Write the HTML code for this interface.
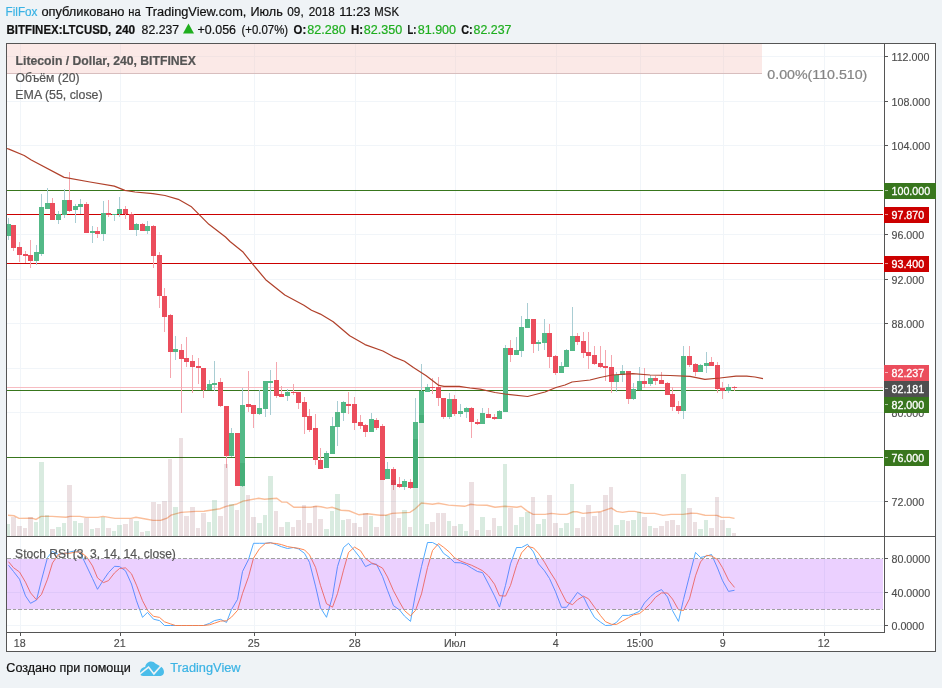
<!DOCTYPE html>
<html><head><meta charset="utf-8"><title>LTCUSD</title>
<style>
html,body{margin:0;padding:0;}
body{width:942px;height:688px;background:#eff3f6;position:relative;overflow:hidden;font-family:"Liberation Sans",sans-serif;color:#1a1a1a;}
.h1,.h2,.ft{position:absolute;left:6px;white-space:nowrap;font-size:13px;line-height:16px;}
.h1{top:4px;letter-spacing:0.1px}
.h2{top:21px;}
.ft{top:660px;}
.bl{color:#3bb3e4}
.gr{color:#1fae1f}
b{font-weight:bold}
svg{position:absolute;left:0;top:0;will-change:transform}
text{font-family:"Liberation Sans",sans-serif}
</style></head><body>

<svg width="942" height="688" viewBox="0 0 942 688">
<rect x="6" y="43" width="930" height="609" fill="#ffffff"/>
<g stroke="#f1f5f9" stroke-width="1" shape-rendering="crispEdges">
<line x1="7" x2="884" y1="56.5" y2="56.5"/>
<line x1="7" x2="884" y1="101.5" y2="101.5"/>
<line x1="7" x2="884" y1="145.5" y2="145.5"/>
<line x1="7" x2="884" y1="190.5" y2="190.5"/>
<line x1="7" x2="884" y1="234.5" y2="234.5"/>
<line x1="7" x2="884" y1="279.5" y2="279.5"/>
<line x1="7" x2="884" y1="323.5" y2="323.5"/>
<line x1="7" x2="884" y1="368.5" y2="368.5"/>
<line x1="7" x2="884" y1="412.5" y2="412.5"/>
<line x1="7" x2="884" y1="457.5" y2="457.5"/>
<line x1="7" x2="884" y1="501.5" y2="501.5"/>
<line x1="7" x2="884" y1="558.5" y2="558.5"/>
<line x1="7" x2="884" y1="592.5" y2="592.5"/>
<line x1="7" x2="884" y1="625.5" y2="625.5"/>
<line x1="20.5" x2="20.5" y1="44" y2="536"/>
<line x1="20.5" x2="20.5" y1="537" y2="632"/>
<line x1="120.5" x2="120.5" y1="44" y2="536"/>
<line x1="120.5" x2="120.5" y1="537" y2="632"/>
<line x1="254.5" x2="254.5" y1="44" y2="536"/>
<line x1="254.5" x2="254.5" y1="537" y2="632"/>
<line x1="355.5" x2="355.5" y1="44" y2="536"/>
<line x1="355.5" x2="355.5" y1="537" y2="632"/>
<line x1="455.5" x2="455.5" y1="44" y2="536"/>
<line x1="455.5" x2="455.5" y1="537" y2="632"/>
<line x1="556.5" x2="556.5" y1="44" y2="536"/>
<line x1="556.5" x2="556.5" y1="537" y2="632"/>
<line x1="640.5" x2="640.5" y1="44" y2="536"/>
<line x1="640.5" x2="640.5" y1="537" y2="632"/>
<line x1="723.5" x2="723.5" y1="44" y2="536"/>
<line x1="723.5" x2="723.5" y1="537" y2="632"/>
<line x1="824.5" x2="824.5" y1="44" y2="536"/>
<line x1="824.5" x2="824.5" y1="537" y2="632"/>
</g>
<rect x="7" y="44" width="755" height="29" fill="#f4c7c3" fill-opacity="0.4"/>
<line x1="7" x2="762" y1="73.5" y2="73.5" stroke="#d8bebe" stroke-width="1" shape-rendering="crispEdges"/>
<polyline fill="none" stroke="#f9b78f" stroke-width="1.4" stroke-opacity="0.9" points="8.0,515.2 14.0,515.8 19.0,518.4 32.0,518.2 36.0,519.4 41.0,516.4 52.0,516.4 66.0,517.2 70.0,516.4 80.0,516.4 86.0,517.4 98.0,517.4 103.0,516.4 115.0,518.4 131.0,518.4 136.0,517.2 147.0,519.2 153.0,520.4 161.0,520.2 167.0,518.2 171.0,515.2 181.0,512.4 196.0,511.4 204.0,511.2 220.0,508.7 226.0,506.3 236.0,504.3 243.0,501.1 258.6,498.3 264.6,499.3 276.7,498.3 281.8,502.1 286.8,502.1 293.9,507.3 311.0,507.3 316.0,506.3 321.0,506.7 327.0,508.1 332.0,507.3 341.0,510.2 349.0,510.8 359.0,514.8 367.5,513.8 380.0,515.2 386.0,515.2 392.0,513.4 410.0,512.4 415.3,508.7 421.4,503.1 432.5,504.3 438.5,503.3 448.6,505.1 464.7,506.3 470.8,504.3 476.8,505.1 487.0,505.3 495.0,507.3 505.0,506.3 517.0,507.3 521.0,506.3 527.0,510.8 533.0,514.4 545.0,514.4 551.5,513.4 560.0,514.4 567.0,514.4 573.0,511.8 577.0,511.8 583.0,513.4 600.0,511.8 611.4,508.1 616.5,511.4 622.5,512.4 628.6,511.4 634.6,511.4 644.7,513.4 654.8,513.4 662.9,515.4 671.0,514.4 683.0,514.4 691.0,513.2 697.0,513.4 705.0,515.2 717.0,515.4 721.4,517.2 729.4,517.4 734.5,518.4"/>
<line x1="7" x2="883" y1="190.5" y2="190.5" stroke="#38761d" stroke-width="1" shape-rendering="crispEdges"/>
<line x1="7" x2="883" y1="214.5" y2="214.5" stroke="#cc0000" stroke-width="1" shape-rendering="crispEdges"/>
<line x1="7" x2="883" y1="263.5" y2="263.5" stroke="#cc0000" stroke-width="1" shape-rendering="crispEdges"/>
<line x1="7" x2="883" y1="390.5" y2="390.5" stroke="#38761d" stroke-width="1" shape-rendering="crispEdges"/>
<line x1="7" x2="883" y1="457.5" y2="457.5" stroke="#38761d" stroke-width="1" shape-rendering="crispEdges"/>
<line x1="7" x2="883" y1="387.5" y2="387.5" stroke="#f7bcc2" stroke-width="1" shape-rendering="crispEdges"/>
<g shape-rendering="crispEdges">
<rect x="8" y="218.4" width="1" height="21.5" fill="#a9cdd3"/>
<rect x="6" y="224.2" width="5" height="11.7" fill="#53b987"/>
<rect x="13" y="224.9" width="1" height="25.8" fill="#f5a6ae"/>
<rect x="11" y="224.9" width="5" height="22.8" fill="#eb4d5c"/>
<rect x="19" y="242.0" width="1" height="20.0" fill="#f5a6ae"/>
<rect x="17" y="246.9" width="5" height="8.2" fill="#eb4d5c"/>
<rect x="25" y="250.7" width="1" height="12.3" fill="#f5a6ae"/>
<rect x="23" y="254.2" width="5" height="1.8" fill="#eb4d5c"/>
<rect x="30" y="240.0" width="1" height="27.8" fill="#f5a6ae"/>
<rect x="28" y="255.0" width="5" height="5.8" fill="#eb4d5c"/>
<rect x="36" y="245.0" width="1" height="19.7" fill="#a9cdd3"/>
<rect x="34" y="252.1" width="5" height="8.7" fill="#53b987"/>
<rect x="41" y="194.0" width="1" height="62.0" fill="#a9cdd3"/>
<rect x="39" y="206.7" width="5" height="47.1" fill="#53b987"/>
<rect x="47" y="188.0" width="1" height="20.8" fill="#a9cdd3"/>
<rect x="45" y="202.9" width="5" height="5.9" fill="#53b987"/>
<rect x="52" y="198.0" width="1" height="21.8" fill="#f5a6ae"/>
<rect x="50" y="203.0" width="5" height="16.8" fill="#eb4d5c"/>
<rect x="58" y="211.0" width="1" height="12.7" fill="#a9cdd3"/>
<rect x="56" y="214.0" width="5" height="5.8" fill="#53b987"/>
<rect x="64" y="189.3" width="1" height="28.7" fill="#a9cdd3"/>
<rect x="62" y="200.0" width="5" height="15.0" fill="#53b987"/>
<rect x="69" y="172.0" width="1" height="40.0" fill="#f5a6ae"/>
<rect x="67" y="200.0" width="5" height="11.0" fill="#eb4d5c"/>
<rect x="75" y="204.0" width="1" height="18.8" fill="#a9cdd3"/>
<rect x="73" y="205.9" width="5" height="4.1" fill="#53b987"/>
<rect x="80" y="199.0" width="1" height="15.0" fill="#a9cdd3"/>
<rect x="78" y="204.0" width="5" height="2.7" fill="#53b987"/>
<rect x="86" y="202.0" width="1" height="30.7" fill="#f5a6ae"/>
<rect x="84" y="204.0" width="5" height="28.7" fill="#eb4d5c"/>
<rect x="92" y="226.0" width="1" height="16.9" fill="#a9cdd3"/>
<rect x="90" y="231.0" width="5" height="1.7" fill="#53b987"/>
<rect x="97" y="227.0" width="1" height="10.8" fill="#f5a6ae"/>
<rect x="95" y="231.0" width="5" height="3.0" fill="#eb4d5c"/>
<rect x="103" y="201.0" width="1" height="39.8" fill="#a9cdd3"/>
<rect x="101" y="212.9" width="5" height="21.1" fill="#53b987"/>
<rect x="108" y="200.0" width="1" height="16.7" fill="#f5a6ae"/>
<rect x="106" y="212.9" width="5" height="1.7" fill="#eb4d5c"/>
<rect x="114" y="213.7" width="1" height="7.0" fill="#a9cdd3"/>
<rect x="112" y="213.7" width="5" height="1.0" fill="#53b987"/>
<rect x="119" y="197.0" width="1" height="19.5" fill="#a9cdd3"/>
<rect x="117" y="208.8" width="5" height="5.2" fill="#53b987"/>
<rect x="125" y="206.0" width="1" height="12.8" fill="#f5a6ae"/>
<rect x="123" y="208.8" width="5" height="5.2" fill="#eb4d5c"/>
<rect x="131" y="211.8" width="1" height="18.0" fill="#f5a6ae"/>
<rect x="129" y="214.0" width="5" height="15.8" fill="#eb4d5c"/>
<rect x="136" y="222.8" width="1" height="12.9" fill="#a9cdd3"/>
<rect x="134" y="224.0" width="5" height="5.8" fill="#53b987"/>
<rect x="142" y="222.8" width="1" height="7.8" fill="#f5a6ae"/>
<rect x="140" y="224.0" width="5" height="6.6" fill="#eb4d5c"/>
<rect x="147" y="221.0" width="1" height="12.6" fill="#a9cdd3"/>
<rect x="145" y="226.0" width="5" height="4.6" fill="#53b987"/>
<rect x="153" y="225.0" width="1" height="42.6" fill="#f5a6ae"/>
<rect x="151" y="226.0" width="5" height="29.8" fill="#eb4d5c"/>
<rect x="159" y="252.0" width="1" height="55.7" fill="#f5a6ae"/>
<rect x="157" y="255.0" width="5" height="41.4" fill="#eb4d5c"/>
<rect x="164" y="287.8" width="1" height="44.2" fill="#f5a6ae"/>
<rect x="162" y="296.0" width="5" height="21.0" fill="#eb4d5c"/>
<rect x="170" y="314.0" width="1" height="64.0" fill="#f5a6ae"/>
<rect x="168" y="314.9" width="5" height="37.0" fill="#eb4d5c"/>
<rect x="175" y="335.8" width="1" height="24.1" fill="#a9cdd3"/>
<rect x="173" y="349.2" width="5" height="2.7" fill="#53b987"/>
<rect x="181" y="344.0" width="1" height="68.7" fill="#f5a6ae"/>
<rect x="179" y="350.0" width="5" height="8.8" fill="#eb4d5c"/>
<rect x="186" y="336.7" width="1" height="30.2" fill="#f5a6ae"/>
<rect x="184" y="358.0" width="5" height="4.0" fill="#eb4d5c"/>
<rect x="192" y="355.0" width="1" height="37.5" fill="#f5a6ae"/>
<rect x="190" y="361.0" width="5" height="5.9" fill="#eb4d5c"/>
<rect x="198" y="358.0" width="1" height="26.0" fill="#f5a6ae"/>
<rect x="196" y="366.0" width="5" height="1.7" fill="#eb4d5c"/>
<rect x="203" y="367.7" width="1" height="30.3" fill="#f5a6ae"/>
<rect x="201" y="367.7" width="5" height="22.5" fill="#eb4d5c"/>
<rect x="209" y="380.0" width="1" height="10.2" fill="#a9cdd3"/>
<rect x="207" y="384.0" width="5" height="6.2" fill="#53b987"/>
<rect x="214" y="361.0" width="1" height="29.8" fill="#a9cdd3"/>
<rect x="212" y="383.0" width="5" height="1.7" fill="#53b987"/>
<rect x="220" y="378.0" width="1" height="29.0" fill="#f5a6ae"/>
<rect x="218" y="382.0" width="5" height="24.1" fill="#eb4d5c"/>
<rect x="226" y="406.1" width="1" height="61.6" fill="#f5a6ae"/>
<rect x="224" y="406.1" width="5" height="49.9" fill="#eb4d5c"/>
<rect x="231" y="428.0" width="1" height="28.9" fill="#a9cdd3"/>
<rect x="229" y="433.1" width="5" height="22.9" fill="#53b987"/>
<rect x="237" y="433.1" width="1" height="52.5" fill="#f5a6ae"/>
<rect x="235" y="433.1" width="5" height="52.5" fill="#eb4d5c"/>
<rect x="242" y="388.0" width="1" height="98.5" fill="#a9cdd3"/>
<rect x="240" y="404.9" width="5" height="80.7" fill="#53b987"/>
<rect x="248" y="370.9" width="1" height="41.0" fill="#f5a6ae"/>
<rect x="246" y="404.0" width="5" height="3.0" fill="#eb4d5c"/>
<rect x="253" y="404.9" width="1" height="23.0" fill="#f5a6ae"/>
<rect x="251" y="404.9" width="5" height="9.1" fill="#eb4d5c"/>
<rect x="259" y="390.0" width="1" height="25.0" fill="#a9cdd3"/>
<rect x="257" y="408.0" width="5" height="6.0" fill="#53b987"/>
<rect x="265" y="381.0" width="1" height="36.0" fill="#a9cdd3"/>
<rect x="263" y="381.0" width="5" height="27.7" fill="#53b987"/>
<rect x="270" y="369.6" width="1" height="45.4" fill="#a9cdd3"/>
<rect x="268" y="381.0" width="5" height="2.0" fill="#53b987"/>
<rect x="276" y="362.0" width="1" height="35.9" fill="#f5a6ae"/>
<rect x="274" y="380.0" width="5" height="15.8" fill="#eb4d5c"/>
<rect x="281" y="386.0" width="1" height="10.7" fill="#f5a6ae"/>
<rect x="279" y="394.0" width="5" height="2.7" fill="#eb4d5c"/>
<rect x="287" y="388.8" width="1" height="12.2" fill="#a9cdd3"/>
<rect x="285" y="391.8" width="5" height="4.0" fill="#53b987"/>
<rect x="293" y="384.0" width="1" height="11.0" fill="#f5a6ae"/>
<rect x="291" y="391.8" width="5" height="1.2" fill="#eb4d5c"/>
<rect x="298" y="392.0" width="1" height="16.7" fill="#f5a6ae"/>
<rect x="296" y="392.0" width="5" height="10.6" fill="#eb4d5c"/>
<rect x="304" y="397.0" width="1" height="37.0" fill="#f5a6ae"/>
<rect x="302" y="402.0" width="5" height="14.7" fill="#eb4d5c"/>
<rect x="309" y="409.0" width="1" height="23.0" fill="#f5a6ae"/>
<rect x="307" y="415.9" width="5" height="13.9" fill="#eb4d5c"/>
<rect x="315" y="414.0" width="1" height="51.0" fill="#f5a6ae"/>
<rect x="313" y="428.0" width="5" height="31.8" fill="#eb4d5c"/>
<rect x="320" y="448.0" width="1" height="20.9" fill="#f5a6ae"/>
<rect x="318" y="459.8" width="5" height="9.1" fill="#eb4d5c"/>
<rect x="326" y="450.8" width="1" height="16.9" fill="#a9cdd3"/>
<rect x="324" y="452.9" width="5" height="14.8" fill="#53b987"/>
<rect x="332" y="417.0" width="1" height="36.7" fill="#a9cdd3"/>
<rect x="330" y="425.8" width="5" height="27.9" fill="#53b987"/>
<rect x="337" y="401.0" width="1" height="44.9" fill="#a9cdd3"/>
<rect x="335" y="411.9" width="5" height="14.8" fill="#53b987"/>
<rect x="343" y="401.0" width="1" height="20.0" fill="#a9cdd3"/>
<rect x="341" y="402.0" width="5" height="10.7" fill="#53b987"/>
<rect x="348" y="392.0" width="1" height="21.6" fill="#f5a6ae"/>
<rect x="346" y="404.0" width="5" height="1.8" fill="#eb4d5c"/>
<rect x="354" y="397.0" width="1" height="32.8" fill="#f5a6ae"/>
<rect x="352" y="404.0" width="5" height="18.7" fill="#eb4d5c"/>
<rect x="360" y="415.0" width="1" height="13.8" fill="#f5a6ae"/>
<rect x="358" y="421.8" width="5" height="4.0" fill="#eb4d5c"/>
<rect x="365" y="424.0" width="1" height="12.8" fill="#f5a6ae"/>
<rect x="363" y="425.0" width="5" height="7.0" fill="#eb4d5c"/>
<rect x="371" y="413.0" width="1" height="19.0" fill="#a9cdd3"/>
<rect x="369" y="418.8" width="5" height="13.2" fill="#53b987"/>
<rect x="376" y="418.0" width="1" height="11.8" fill="#f5a6ae"/>
<rect x="374" y="419.7" width="5" height="8.3" fill="#eb4d5c"/>
<rect x="382" y="424.0" width="1" height="55.9" fill="#f5a6ae"/>
<rect x="380" y="425.8" width="5" height="54.1" fill="#eb4d5c"/>
<rect x="387" y="462.0" width="1" height="17.0" fill="#a9cdd3"/>
<rect x="385" y="468.9" width="5" height="10.1" fill="#53b987"/>
<rect x="393" y="466.8" width="1" height="23.2" fill="#f5a6ae"/>
<rect x="391" y="468.9" width="5" height="16.1" fill="#eb4d5c"/>
<rect x="399" y="477.0" width="1" height="10.7" fill="#f5a6ae"/>
<rect x="397" y="483.9" width="5" height="3.0" fill="#eb4d5c"/>
<rect x="404" y="479.0" width="1" height="11.0" fill="#a9cdd3"/>
<rect x="402" y="480.8" width="5" height="6.1" fill="#53b987"/>
<rect x="410" y="479.0" width="1" height="9.6" fill="#f5a6ae"/>
<rect x="408" y="482.0" width="5" height="5.7" fill="#eb4d5c"/>
<rect x="415" y="397.9" width="1" height="89.8" fill="#a9cdd3"/>
<rect x="413" y="421.8" width="5" height="65.9" fill="#53b987"/>
<rect x="421" y="364.3" width="1" height="58.6" fill="#a9cdd3"/>
<rect x="419" y="390.9" width="5" height="32.0" fill="#53b987"/>
<rect x="427" y="384.0" width="1" height="7.8" fill="#a9cdd3"/>
<rect x="425" y="387.4" width="5" height="4.4" fill="#53b987"/>
<rect x="432" y="377.8" width="1" height="16.1" fill="#f5a6ae"/>
<rect x="430" y="387.0" width="5" height="1.0" fill="#eb4d5c"/>
<rect x="438" y="377.0" width="1" height="28.8" fill="#f5a6ae"/>
<rect x="436" y="387.0" width="5" height="10.9" fill="#eb4d5c"/>
<rect x="443" y="397.9" width="1" height="20.9" fill="#f5a6ae"/>
<rect x="441" y="397.9" width="5" height="18.8" fill="#eb4d5c"/>
<rect x="449" y="393.0" width="1" height="25.8" fill="#a9cdd3"/>
<rect x="447" y="399.0" width="5" height="17.7" fill="#53b987"/>
<rect x="454" y="395.0" width="1" height="20.9" fill="#f5a6ae"/>
<rect x="452" y="399.0" width="5" height="15.0" fill="#eb4d5c"/>
<rect x="460" y="404.0" width="1" height="12.7" fill="#a9cdd3"/>
<rect x="458" y="411.0" width="5" height="3.0" fill="#53b987"/>
<rect x="466" y="407.0" width="1" height="11.0" fill="#a9cdd3"/>
<rect x="464" y="408.0" width="5" height="3.9" fill="#53b987"/>
<rect x="471" y="407.0" width="1" height="31.0" fill="#f5a6ae"/>
<rect x="469" y="408.0" width="5" height="13.8" fill="#eb4d5c"/>
<rect x="477" y="418.8" width="1" height="5.8" fill="#f5a6ae"/>
<rect x="475" y="421.8" width="5" height="1.9" fill="#eb4d5c"/>
<rect x="482" y="408.0" width="1" height="15.7" fill="#a9cdd3"/>
<rect x="480" y="413.0" width="5" height="10.7" fill="#53b987"/>
<rect x="488" y="408.0" width="1" height="9.7" fill="#f5a6ae"/>
<rect x="486" y="413.9" width="5" height="3.8" fill="#eb4d5c"/>
<rect x="494" y="414.0" width="1" height="6.0" fill="#f5a6ae"/>
<rect x="492" y="417.2" width="5" height="1.4" fill="#eb4d5c"/>
<rect x="499" y="410.0" width="1" height="8.6" fill="#a9cdd3"/>
<rect x="497" y="411.0" width="5" height="7.6" fill="#53b987"/>
<rect x="505" y="345.0" width="1" height="66.6" fill="#a9cdd3"/>
<rect x="503" y="348.0" width="5" height="63.6" fill="#53b987"/>
<rect x="510" y="340.0" width="1" height="22.0" fill="#f5a6ae"/>
<rect x="508" y="348.0" width="5" height="7.0" fill="#eb4d5c"/>
<rect x="516" y="337.0" width="1" height="18.0" fill="#a9cdd3"/>
<rect x="514" y="350.0" width="5" height="5.0" fill="#53b987"/>
<rect x="521" y="316.0" width="1" height="41.0" fill="#a9cdd3"/>
<rect x="519" y="327.0" width="5" height="24.0" fill="#53b987"/>
<rect x="527" y="303.0" width="1" height="24.9" fill="#a9cdd3"/>
<rect x="525" y="318.8" width="5" height="9.1" fill="#53b987"/>
<rect x="533" y="318.8" width="1" height="34.1" fill="#f5a6ae"/>
<rect x="531" y="318.8" width="5" height="25.2" fill="#eb4d5c"/>
<rect x="538" y="340.0" width="1" height="11.0" fill="#a9cdd3"/>
<rect x="536" y="341.9" width="5" height="2.1" fill="#53b987"/>
<rect x="544" y="318.8" width="1" height="31.2" fill="#a9cdd3"/>
<rect x="542" y="332.8" width="5" height="9.9" fill="#53b987"/>
<rect x="549" y="324.0" width="1" height="44.0" fill="#f5a6ae"/>
<rect x="547" y="332.8" width="5" height="24.1" fill="#eb4d5c"/>
<rect x="555" y="355.0" width="1" height="20.0" fill="#f5a6ae"/>
<rect x="553" y="355.8" width="5" height="17.1" fill="#eb4d5c"/>
<rect x="561" y="362.0" width="1" height="10.9" fill="#a9cdd3"/>
<rect x="559" y="365.9" width="5" height="7.0" fill="#53b987"/>
<rect x="566" y="348.8" width="1" height="18.0" fill="#a9cdd3"/>
<rect x="564" y="350.0" width="5" height="16.8" fill="#53b987"/>
<rect x="572" y="307.0" width="1" height="44.0" fill="#a9cdd3"/>
<rect x="570" y="335.8" width="5" height="15.2" fill="#53b987"/>
<rect x="577" y="332.7" width="1" height="12.2" fill="#f5a6ae"/>
<rect x="575" y="335.8" width="5" height="6.1" fill="#eb4d5c"/>
<rect x="583" y="331.8" width="1" height="26.2" fill="#f5a6ae"/>
<rect x="581" y="341.0" width="5" height="11.7" fill="#eb4d5c"/>
<rect x="588" y="331.8" width="1" height="37.0" fill="#f5a6ae"/>
<rect x="586" y="351.9" width="5" height="4.0" fill="#eb4d5c"/>
<rect x="594" y="346.0" width="1" height="18.6" fill="#f5a6ae"/>
<rect x="592" y="355.0" width="5" height="9.0" fill="#eb4d5c"/>
<rect x="600" y="346.0" width="1" height="21.9" fill="#f5a6ae"/>
<rect x="598" y="362.9" width="5" height="4.0" fill="#eb4d5c"/>
<rect x="605" y="350.0" width="1" height="31.0" fill="#f5a6ae"/>
<rect x="603" y="365.8" width="5" height="2.1" fill="#eb4d5c"/>
<rect x="611" y="355.0" width="1" height="37.9" fill="#f5a6ae"/>
<rect x="609" y="366.9" width="5" height="15.0" fill="#eb4d5c"/>
<rect x="616" y="372.0" width="1" height="20.0" fill="#a9cdd3"/>
<rect x="614" y="375.0" width="5" height="6.9" fill="#53b987"/>
<rect x="622" y="365.0" width="1" height="16.9" fill="#a9cdd3"/>
<rect x="620" y="371.0" width="5" height="4.0" fill="#53b987"/>
<rect x="628" y="371.0" width="1" height="33.0" fill="#f5a6ae"/>
<rect x="626" y="371.0" width="5" height="28.0" fill="#eb4d5c"/>
<rect x="633" y="383.0" width="1" height="16.8" fill="#a9cdd3"/>
<rect x="631" y="389.0" width="5" height="10.0" fill="#53b987"/>
<rect x="639" y="366.9" width="1" height="23.0" fill="#a9cdd3"/>
<rect x="637" y="381.0" width="5" height="8.9" fill="#53b987"/>
<rect x="644" y="367.9" width="1" height="20.1" fill="#f5a6ae"/>
<rect x="642" y="381.0" width="5" height="3.0" fill="#eb4d5c"/>
<rect x="650" y="375.0" width="1" height="10.9" fill="#a9cdd3"/>
<rect x="648" y="378.0" width="5" height="6.0" fill="#53b987"/>
<rect x="655" y="376.0" width="1" height="9.0" fill="#f5a6ae"/>
<rect x="653" y="378.0" width="5" height="3.0" fill="#eb4d5c"/>
<rect x="661" y="371.9" width="1" height="12.1" fill="#f5a6ae"/>
<rect x="659" y="379.8" width="5" height="4.2" fill="#eb4d5c"/>
<rect x="667" y="381.9" width="1" height="13.0" fill="#f5a6ae"/>
<rect x="665" y="382.9" width="5" height="12.0" fill="#eb4d5c"/>
<rect x="672" y="386.7" width="1" height="24.3" fill="#f5a6ae"/>
<rect x="670" y="393.9" width="5" height="12.9" fill="#eb4d5c"/>
<rect x="678" y="401.0" width="1" height="13.0" fill="#f5a6ae"/>
<rect x="676" y="405.9" width="5" height="4.9" fill="#eb4d5c"/>
<rect x="683" y="346.0" width="1" height="73.0" fill="#a9cdd3"/>
<rect x="681" y="355.9" width="5" height="54.9" fill="#53b987"/>
<rect x="689" y="346.0" width="1" height="20.9" fill="#f5a6ae"/>
<rect x="687" y="355.9" width="5" height="9.1" fill="#eb4d5c"/>
<rect x="695" y="363.0" width="1" height="12.8" fill="#f5a6ae"/>
<rect x="693" y="364.0" width="5" height="7.8" fill="#eb4d5c"/>
<rect x="700" y="364.0" width="1" height="7.8" fill="#a9cdd3"/>
<rect x="698" y="365.0" width="5" height="6.8" fill="#53b987"/>
<rect x="706" y="352.0" width="1" height="20.9" fill="#a9cdd3"/>
<rect x="704" y="363.0" width="5" height="2.9" fill="#53b987"/>
<rect x="711" y="357.0" width="1" height="8.9" fill="#f5a6ae"/>
<rect x="709" y="361.9" width="5" height="4.0" fill="#eb4d5c"/>
<rect x="717" y="361.9" width="1" height="31.0" fill="#f5a6ae"/>
<rect x="715" y="365.0" width="5" height="23.9" fill="#eb4d5c"/>
<rect x="722" y="381.9" width="1" height="17.1" fill="#f5a6ae"/>
<rect x="720" y="388.0" width="5" height="2.6" fill="#eb4d5c"/>
<rect x="728" y="384.0" width="1" height="8.9" fill="#a9cdd3"/>
<rect x="726" y="387.0" width="5" height="3.6" fill="#53b987"/>
<rect x="734" y="385.9" width="1" height="5.1" fill="#f5a6ae"/>
<rect x="732" y="386.8" width="5" height="1.2" fill="#eb4d5c"/>
</g>
<g shape-rendering="crispEdges">
<rect x="6" y="524.3" width="4" height="11.7" fill="rgba(0,120,50,0.15)"/>
<rect x="11" y="517.2" width="5" height="18.8" fill="rgba(100,0,20,0.12)"/>
<rect x="17" y="526.0" width="5" height="10.0" fill="rgba(100,0,20,0.12)"/>
<rect x="23" y="528.0" width="4" height="8.0" fill="rgba(100,0,20,0.12)"/>
<rect x="28" y="517.2" width="5" height="18.8" fill="rgba(100,0,20,0.12)"/>
<rect x="34" y="522.3" width="4" height="13.7" fill="rgba(0,120,50,0.15)"/>
<rect x="39" y="461.8" width="5" height="74.2" fill="rgba(0,120,50,0.15)"/>
<rect x="45" y="514.8" width="4" height="21.2" fill="rgba(0,120,50,0.15)"/>
<rect x="50" y="529.0" width="5" height="7.0" fill="rgba(100,0,20,0.12)"/>
<rect x="56" y="527.0" width="5" height="9.0" fill="rgba(0,120,50,0.15)"/>
<rect x="62" y="523.0" width="4" height="13.0" fill="rgba(0,120,50,0.15)"/>
<rect x="67" y="485.0" width="5" height="51.0" fill="rgba(100,0,20,0.12)"/>
<rect x="73" y="521.0" width="4" height="15.0" fill="rgba(0,120,50,0.15)"/>
<rect x="78" y="523.0" width="5" height="13.0" fill="rgba(0,120,50,0.15)"/>
<rect x="84" y="518.3" width="5" height="17.7" fill="rgba(100,0,20,0.12)"/>
<rect x="90" y="529.0" width="4" height="7.0" fill="rgba(0,120,50,0.15)"/>
<rect x="95" y="528.0" width="5" height="8.0" fill="rgba(100,0,20,0.12)"/>
<rect x="101" y="517.0" width="4" height="19.0" fill="rgba(0,120,50,0.15)"/>
<rect x="106" y="528.0" width="5" height="8.0" fill="rgba(100,0,20,0.12)"/>
<rect x="112" y="531.0" width="4" height="5.0" fill="rgba(0,120,50,0.15)"/>
<rect x="117" y="525.0" width="5" height="11.0" fill="rgba(0,120,50,0.15)"/>
<rect x="123" y="524.0" width="5" height="12.0" fill="rgba(100,0,20,0.12)"/>
<rect x="129" y="519.0" width="4" height="17.0" fill="rgba(100,0,20,0.12)"/>
<rect x="134" y="521.0" width="5" height="15.0" fill="rgba(0,120,50,0.15)"/>
<rect x="140" y="532.0" width="4" height="4.0" fill="rgba(100,0,20,0.12)"/>
<rect x="145" y="531.0" width="5" height="5.0" fill="rgba(0,120,50,0.15)"/>
<rect x="151" y="501.7" width="5" height="34.3" fill="rgba(100,0,20,0.12)"/>
<rect x="157" y="503.7" width="4" height="32.3" fill="rgba(100,0,20,0.12)"/>
<rect x="162" y="501.1" width="5" height="34.9" fill="rgba(100,0,20,0.12)"/>
<rect x="168" y="459.4" width="4" height="76.6" fill="rgba(100,0,20,0.12)"/>
<rect x="173" y="506.8" width="5" height="29.2" fill="rgba(0,120,50,0.15)"/>
<rect x="179" y="438.2" width="4" height="97.8" fill="rgba(100,0,20,0.12)"/>
<rect x="184" y="516.0" width="5" height="20.0" fill="rgba(100,0,20,0.12)"/>
<rect x="190" y="507.0" width="5" height="29.0" fill="rgba(100,0,20,0.12)"/>
<rect x="196" y="528.0" width="4" height="8.0" fill="rgba(100,0,20,0.12)"/>
<rect x="201" y="512.8" width="5" height="23.2" fill="rgba(100,0,20,0.12)"/>
<rect x="207" y="522.0" width="4" height="14.0" fill="rgba(0,120,50,0.15)"/>
<rect x="212" y="500.1" width="5" height="35.9" fill="rgba(0,120,50,0.15)"/>
<rect x="218" y="516.0" width="5" height="20.0" fill="rgba(100,0,20,0.12)"/>
<rect x="224" y="464.0" width="4" height="72.0" fill="rgba(100,0,20,0.12)"/>
<rect x="229" y="504.3" width="5" height="31.7" fill="rgba(0,120,50,0.15)"/>
<rect x="235" y="510.0" width="4" height="26.0" fill="rgba(100,0,20,0.12)"/>
<rect x="240" y="463.4" width="5" height="72.6" fill="rgba(0,120,50,0.15)"/>
<rect x="246" y="495.0" width="4" height="41.0" fill="rgba(100,0,20,0.12)"/>
<rect x="251" y="517.0" width="5" height="19.0" fill="rgba(100,0,20,0.12)"/>
<rect x="257" y="523.0" width="5" height="13.0" fill="rgba(0,120,50,0.15)"/>
<rect x="263" y="515.0" width="4" height="21.0" fill="rgba(0,120,50,0.15)"/>
<rect x="268" y="476.0" width="5" height="60.0" fill="rgba(0,120,50,0.15)"/>
<rect x="274" y="511.0" width="4" height="25.0" fill="rgba(100,0,20,0.12)"/>
<rect x="279" y="527.0" width="5" height="9.0" fill="rgba(100,0,20,0.12)"/>
<rect x="285" y="522.0" width="5" height="14.0" fill="rgba(0,120,50,0.15)"/>
<rect x="291" y="527.0" width="4" height="9.0" fill="rgba(100,0,20,0.12)"/>
<rect x="296" y="520.0" width="5" height="16.0" fill="rgba(100,0,20,0.12)"/>
<rect x="302" y="505.0" width="4" height="31.0" fill="rgba(100,0,20,0.12)"/>
<rect x="307" y="523.0" width="5" height="13.0" fill="rgba(100,0,20,0.12)"/>
<rect x="313" y="506.0" width="4" height="30.0" fill="rgba(100,0,20,0.12)"/>
<rect x="318" y="519.0" width="5" height="17.0" fill="rgba(100,0,20,0.12)"/>
<rect x="324" y="529.0" width="5" height="7.0" fill="rgba(0,120,50,0.15)"/>
<rect x="330" y="511.0" width="4" height="25.0" fill="rgba(0,120,50,0.15)"/>
<rect x="335" y="494.0" width="5" height="42.0" fill="rgba(0,120,50,0.15)"/>
<rect x="341" y="520.0" width="4" height="16.0" fill="rgba(0,120,50,0.15)"/>
<rect x="346" y="519.0" width="5" height="17.0" fill="rgba(100,0,20,0.12)"/>
<rect x="352" y="523.0" width="5" height="13.0" fill="rgba(100,0,20,0.12)"/>
<rect x="358" y="527.0" width="4" height="9.0" fill="rgba(100,0,20,0.12)"/>
<rect x="363" y="513.2" width="5" height="22.8" fill="rgba(100,0,20,0.12)"/>
<rect x="369" y="516.0" width="4" height="20.0" fill="rgba(0,120,50,0.15)"/>
<rect x="374" y="527.0" width="5" height="9.0" fill="rgba(100,0,20,0.12)"/>
<rect x="380" y="480.0" width="4" height="56.0" fill="rgba(100,0,20,0.12)"/>
<rect x="385" y="515.0" width="5" height="21.0" fill="rgba(0,120,50,0.15)"/>
<rect x="391" y="480.0" width="5" height="56.0" fill="rgba(100,0,20,0.12)"/>
<rect x="397" y="518.3" width="4" height="17.7" fill="rgba(100,0,20,0.12)"/>
<rect x="402" y="510.2" width="5" height="25.8" fill="rgba(0,120,50,0.15)"/>
<rect x="408" y="527.0" width="4" height="9.0" fill="rgba(100,0,20,0.12)"/>
<rect x="413" y="439.0" width="5" height="97.0" fill="rgba(0,120,50,0.15)"/>
<rect x="419" y="414.5" width="5" height="121.5" fill="rgba(0,120,50,0.15)"/>
<rect x="425" y="524.0" width="4" height="12.0" fill="rgba(0,120,50,0.15)"/>
<rect x="430" y="522.0" width="5" height="14.0" fill="rgba(100,0,20,0.12)"/>
<rect x="436" y="513.0" width="4" height="23.0" fill="rgba(100,0,20,0.12)"/>
<rect x="441" y="513.0" width="5" height="23.0" fill="rgba(100,0,20,0.12)"/>
<rect x="447" y="521.0" width="4" height="15.0" fill="rgba(0,120,50,0.15)"/>
<rect x="452" y="526.0" width="5" height="10.0" fill="rgba(100,0,20,0.12)"/>
<rect x="458" y="524.0" width="5" height="12.0" fill="rgba(0,120,50,0.15)"/>
<rect x="464" y="531.0" width="4" height="5.0" fill="rgba(0,120,50,0.15)"/>
<rect x="469" y="482.0" width="5" height="54.0" fill="rgba(100,0,20,0.12)"/>
<rect x="475" y="530.0" width="4" height="6.0" fill="rgba(100,0,20,0.12)"/>
<rect x="480" y="517.0" width="5" height="19.0" fill="rgba(0,120,50,0.15)"/>
<rect x="486" y="530.0" width="5" height="6.0" fill="rgba(100,0,20,0.12)"/>
<rect x="492" y="518.0" width="4" height="18.0" fill="rgba(100,0,20,0.12)"/>
<rect x="497" y="526.0" width="5" height="10.0" fill="rgba(0,120,50,0.15)"/>
<rect x="503" y="464.0" width="4" height="72.0" fill="rgba(0,120,50,0.15)"/>
<rect x="508" y="508.0" width="5" height="28.0" fill="rgba(100,0,20,0.12)"/>
<rect x="514" y="525.0" width="4" height="11.0" fill="rgba(0,120,50,0.15)"/>
<rect x="519" y="517.0" width="5" height="19.0" fill="rgba(0,120,50,0.15)"/>
<rect x="525" y="512.0" width="5" height="24.0" fill="rgba(0,120,50,0.15)"/>
<rect x="531" y="497.0" width="4" height="39.0" fill="rgba(100,0,20,0.12)"/>
<rect x="536" y="524.0" width="5" height="12.0" fill="rgba(0,120,50,0.15)"/>
<rect x="542" y="519.0" width="4" height="17.0" fill="rgba(0,120,50,0.15)"/>
<rect x="547" y="495.0" width="5" height="41.0" fill="rgba(100,0,20,0.12)"/>
<rect x="553" y="523.0" width="5" height="13.0" fill="rgba(100,0,20,0.12)"/>
<rect x="559" y="528.0" width="4" height="8.0" fill="rgba(0,120,50,0.15)"/>
<rect x="564" y="523.0" width="5" height="13.0" fill="rgba(0,120,50,0.15)"/>
<rect x="570" y="484.2" width="4" height="51.8" fill="rgba(0,120,50,0.15)"/>
<rect x="575" y="528.0" width="5" height="8.0" fill="rgba(100,0,20,0.12)"/>
<rect x="581" y="517.0" width="4" height="19.0" fill="rgba(100,0,20,0.12)"/>
<rect x="586" y="505.0" width="5" height="31.0" fill="rgba(100,0,20,0.12)"/>
<rect x="592" y="516.0" width="5" height="20.0" fill="rgba(100,0,20,0.12)"/>
<rect x="598" y="512.0" width="4" height="24.0" fill="rgba(100,0,20,0.12)"/>
<rect x="603" y="495.0" width="5" height="41.0" fill="rgba(100,0,20,0.12)"/>
<rect x="609" y="487.0" width="4" height="49.0" fill="rgba(100,0,20,0.12)"/>
<rect x="614" y="525.0" width="5" height="11.0" fill="rgba(0,120,50,0.15)"/>
<rect x="620" y="520.0" width="5" height="16.0" fill="rgba(0,120,50,0.15)"/>
<rect x="626" y="521.0" width="4" height="15.0" fill="rgba(100,0,20,0.12)"/>
<rect x="631" y="520.0" width="5" height="16.0" fill="rgba(0,120,50,0.15)"/>
<rect x="637" y="512.0" width="4" height="24.0" fill="rgba(0,120,50,0.15)"/>
<rect x="642" y="517.0" width="5" height="19.0" fill="rgba(100,0,20,0.12)"/>
<rect x="648" y="526.0" width="4" height="10.0" fill="rgba(0,120,50,0.15)"/>
<rect x="653" y="528.0" width="5" height="8.0" fill="rgba(100,0,20,0.12)"/>
<rect x="659" y="526.0" width="5" height="10.0" fill="rgba(100,0,20,0.12)"/>
<rect x="665" y="521.0" width="4" height="15.0" fill="rgba(100,0,20,0.12)"/>
<rect x="670" y="520.0" width="5" height="16.0" fill="rgba(100,0,20,0.12)"/>
<rect x="676" y="525.0" width="4" height="11.0" fill="rgba(100,0,20,0.12)"/>
<rect x="681" y="474.0" width="5" height="62.0" fill="rgba(0,120,50,0.15)"/>
<rect x="687" y="508.0" width="5" height="28.0" fill="rgba(100,0,20,0.12)"/>
<rect x="693" y="522.0" width="4" height="14.0" fill="rgba(100,0,20,0.12)"/>
<rect x="698" y="529.0" width="5" height="7.0" fill="rgba(0,120,50,0.15)"/>
<rect x="704" y="520.0" width="4" height="16.0" fill="rgba(0,120,50,0.15)"/>
<rect x="709" y="528.0" width="5" height="8.0" fill="rgba(100,0,20,0.12)"/>
<rect x="715" y="497.0" width="4" height="39.0" fill="rgba(100,0,20,0.12)"/>
<rect x="720" y="520.0" width="5" height="16.0" fill="rgba(100,0,20,0.12)"/>
<rect x="726" y="528.0" width="5" height="8.0" fill="rgba(0,120,50,0.15)"/>
<rect x="732" y="533.0" width="4" height="3.0" fill="rgba(100,0,20,0.12)"/>
</g>
<polyline fill="none" stroke="#b0402a" stroke-width="1.2" stroke-linejoin="round" points="7.0,148.5 8.9,149.1 24.2,155.5 31.3,160.0 63.7,177.1 64.4,177.4 90.0,182.0 114.3,186.1 124.8,190.4 135.0,192.0 152.9,193.7 165.0,195.5 178.3,199.3 191.0,206.4 208.9,224.3 225.5,237.0 230.0,241.5 242.7,251.7 252.9,264.4 265.7,279.7 284.8,295.0 303.9,305.2 311.5,310.3 320.4,314.1 333.2,321.7 349.7,335.7 365.0,344.6 382.9,351.0 393.0,356.6 404.5,361.2 413.4,367.6 426.2,375.7 438.9,385.4 444.0,386.4 459.3,386.4 470.0,388.0 480.0,389.2 495.0,392.5 505.0,394.0 527.6,396.5 545.0,392.0 556.0,387.5 565.0,385.0 572.0,382.0 590.0,380.0 600.0,377.5 612.0,375.0 632.8,373.7 650.0,375.0 670.0,375.5 690.0,376.3 704.9,379.3 720.0,378.0 736.0,376.2 746.7,376.2 755.0,377.0 763.0,378.6"/>
<polyline fill="none" stroke="#3fa2ff" stroke-width="1" stroke-opacity="0.9" stroke-linejoin="round" points="8.5,565.2 13.5,571.5 19.5,579.2 25.5,595.9 30.5,603.3 36.5,600.1 41.5,579.9 47.5,557.5 52.5,551.3 58.5,554.7 64.5,553.3 69.5,552.0 75.5,550.8 80.5,553.3 86.5,565.9 92.5,578.5 97.5,589.3 103.5,579.9 108.5,572.6 114.5,566.3 119.5,566.6 125.5,570.8 131.5,584.0 136.5,600.8 142.5,617.3 147.5,612.4 153.5,619.2 159.5,620.6 164.5,625.5 170.5,625.5 175.5,625.5 181.5,625.5 186.5,625.5 192.5,625.5 198.5,625.5 203.5,625.5 209.5,623.4 214.5,620.6 220.5,619.3 226.5,622.4 231.5,609.5 237.5,599.4 242.5,571.5 248.5,559.6 253.5,543.3 259.5,543.3 265.5,543.3 270.5,542.5 276.5,544.7 281.5,546.7 287.5,548.5 293.5,547.5 298.5,548.9 304.5,553.3 309.5,562.4 315.5,586.1 320.5,607.8 326.5,617.3 332.5,596.6 337.5,566.6 343.5,547.5 348.5,543.3 354.5,550.6 360.5,558.2 365.5,566.6 371.5,563.8 376.5,564.2 382.5,576.4 387.5,590.3 393.5,605.7 399.5,609.9 404.5,616.1 410.5,621.4 415.5,593.8 421.5,566.6 427.5,542.5 432.5,542.5 438.5,545.7 443.5,553.3 449.5,557.5 454.5,562.6 460.5,562.8 466.5,564.8 471.5,568.0 477.5,571.5 482.5,572.6 488.5,584.0 494.5,595.9 499.5,607.1 505.5,585.4 510.5,563.8 516.5,547.5 521.5,547.5 527.5,544.3 533.5,552.0 538.5,563.8 544.5,570.8 549.5,578.5 555.5,591.7 561.5,607.3 566.5,607.3 572.5,599.4 577.5,592.4 583.5,596.9 588.5,607.1 594.5,617.5 600.5,622.1 605.5,625.5 611.5,625.2 616.5,622.4 622.5,615.4 628.5,615.4 633.5,614.0 639.5,611.3 644.5,602.9 650.5,596.6 655.5,592.4 661.5,589.6 667.5,597.0 672.5,610.6 678.5,621.4 683.5,599.4 689.5,575.7 695.5,552.4 700.5,557.5 706.5,556.1 711.5,554.5 717.5,568.0 722.5,580.6 728.5,591.4 734.5,590.3"/>
<polyline fill="none" stroke="#ff7a3d" stroke-width="1" stroke-opacity="0.9" stroke-linejoin="round" points="8.5,561.7 13.5,567.7 19.5,572.0 25.5,582.2 30.5,592.8 36.5,599.8 41.5,594.4 47.5,579.2 52.5,562.9 58.5,554.5 64.5,553.1 69.5,553.3 75.5,552.0 80.5,552.0 86.5,556.7 92.5,565.9 97.5,577.9 103.5,582.6 108.5,580.6 114.5,572.9 119.5,568.5 125.5,567.9 131.5,573.8 136.5,585.2 142.5,600.7 147.5,610.2 153.5,616.3 159.5,617.4 164.5,621.8 170.5,623.9 175.5,625.5 181.5,625.5 186.5,625.5 192.5,625.5 198.5,625.5 203.5,625.5 209.5,624.8 214.5,623.2 220.5,621.1 226.5,620.8 231.5,617.1 237.5,610.4 242.5,593.5 248.5,576.8 253.5,558.1 259.5,548.7 265.5,543.3 270.5,543.0 276.5,543.5 281.5,544.6 287.5,546.6 293.5,547.6 298.5,548.3 304.5,549.9 309.5,554.9 315.5,567.3 320.5,585.4 326.5,603.7 332.5,607.2 337.5,593.5 343.5,570.2 348.5,552.5 354.5,547.1 360.5,550.7 365.5,558.5 371.5,562.9 376.5,564.9 382.5,568.1 387.5,577.0 393.5,590.8 399.5,602.0 404.5,610.6 410.5,615.8 415.5,610.4 421.5,593.9 427.5,567.6 432.5,550.5 438.5,543.6 443.5,547.2 449.5,552.2 454.5,557.8 460.5,561.0 466.5,563.4 471.5,565.2 477.5,568.1 482.5,570.7 488.5,576.0 494.5,584.2 499.5,595.7 505.5,596.1 510.5,585.4 516.5,565.6 521.5,552.9 527.5,546.4 533.5,547.9 538.5,553.4 544.5,562.2 549.5,571.0 555.5,580.3 561.5,592.5 566.5,602.1 572.5,604.7 577.5,599.7 583.5,596.2 588.5,598.8 594.5,607.2 600.5,615.6 605.5,621.7 611.5,624.3 616.5,624.4 622.5,621.0 628.5,617.7 633.5,614.9 639.5,613.6 644.5,609.4 650.5,603.6 655.5,597.3 661.5,592.9 667.5,593.0 672.5,599.1 678.5,609.7 683.5,610.5 689.5,598.8 695.5,575.8 700.5,561.9 706.5,555.3 711.5,556.0 717.5,559.5 722.5,567.7 728.5,580.0 734.5,587.4"/>
<rect x="7" y="559" width="876" height="50.5" fill="#9915ff" fill-opacity="0.2"/>
<g stroke="#a0a0a0" stroke-width="1" stroke-dasharray="3.5 2" shape-rendering="crispEdges"><line x1="7" x2="883" y1="558.5" y2="558.5"/><line x1="7" x2="883" y1="609.5" y2="609.5"/></g>
<g fill="none" stroke="#555555" stroke-width="1" shape-rendering="crispEdges">
<rect x="6.5" y="43.5" width="929" height="608"/>
<line x1="884.5" x2="884.5" y1="44" y2="632"/>
<line x1="7" x2="935" y1="536.5" y2="536.5"/>
<line x1="7" x2="884.5" y1="632.5" y2="632.5"/>
<line x1="885" x2="888" y1="56.5" y2="56.5"/>
<line x1="885" x2="888" y1="101.5" y2="101.5"/>
<line x1="885" x2="888" y1="145.5" y2="145.5"/>
<line x1="885" x2="888" y1="234.5" y2="234.5"/>
<line x1="885" x2="888" y1="279.5" y2="279.5"/>
<line x1="885" x2="888" y1="323.5" y2="323.5"/>
<line x1="885" x2="888" y1="412.5" y2="412.5"/>
<line x1="885" x2="888" y1="501.5" y2="501.5"/>
<line x1="885" x2="888" y1="558.5" y2="558.5"/>
<line x1="885" x2="888" y1="592.5" y2="592.5"/>
<line x1="885" x2="888" y1="625.5" y2="625.5"/>
<line x1="20.5" x2="20.5" y1="633" y2="636"/>
<line x1="120.5" x2="120.5" y1="633" y2="636"/>
<line x1="254.5" x2="254.5" y1="633" y2="636"/>
<line x1="355.5" x2="355.5" y1="633" y2="636"/>
<line x1="455.5" x2="455.5" y1="633" y2="636"/>
<line x1="556.5" x2="556.5" y1="633" y2="636"/>
<line x1="640.5" x2="640.5" y1="633" y2="636"/>
<line x1="723.5" x2="723.5" y1="633" y2="636"/>
<line x1="824.5" x2="824.5" y1="633" y2="636"/>
</g>
<g font-size="10.7" fill="#4d4d4d" stroke="#4d4d4d" stroke-width="0.15">
<text x="891.5" y="60.5">112.000</text>
<text x="891.5" y="105.5">108.000</text>
<text x="891.5" y="149.5">104.000</text>
<text x="891.5" y="238.5">96.000</text>
<text x="891.5" y="283.5">92.000</text>
<text x="891.5" y="327.5">88.000</text>
<text x="891.5" y="416.5">80.000</text>
<text x="891.5" y="505.5">72.000</text>
<text x="891.5" y="562.5">80.0000</text>
<text x="891.5" y="596.5">40.0000</text>
<text x="891.5" y="629.5">0.0000</text>
<text x="19.8" y="647" text-anchor="middle">18</text>
<text x="119.8" y="647" text-anchor="middle">21</text>
<text x="253.8" y="647" text-anchor="middle">25</text>
<text x="354.8" y="647" text-anchor="middle">28</text>
<text x="454.8" y="647" text-anchor="middle">Июл</text>
<text x="555.8" y="647" text-anchor="middle">4</text>
<text x="639.8" y="647" text-anchor="middle">15:00</text>
<text x="722.8" y="647" text-anchor="middle">9</text>
<text x="823.8" y="647" text-anchor="middle">12</text>
</g>
<rect x="884" y="183" width="52" height="16" fill="#38761d" shape-rendering="crispEdges"/>
<rect x="885" y="190" width="3" height="1" fill="#ffffff" fill-opacity="0.6" shape-rendering="crispEdges"/>
<text x="891.5" y="195" font-size="10.7" fill="#ffffff" stroke="#ffffff" stroke-width="0.3">100.000</text>
<rect x="884" y="207" width="45" height="16" fill="#cc0000" shape-rendering="crispEdges"/>
<rect x="885" y="214" width="3" height="1" fill="#ffffff" fill-opacity="0.6" shape-rendering="crispEdges"/>
<text x="891.5" y="219" font-size="10.7" fill="#ffffff" stroke="#ffffff" stroke-width="0.3">97.870</text>
<rect x="884" y="256" width="45" height="16" fill="#cc0000" shape-rendering="crispEdges"/>
<rect x="885" y="263" width="3" height="1" fill="#ffffff" fill-opacity="0.6" shape-rendering="crispEdges"/>
<text x="891.5" y="268" font-size="10.7" fill="#ffffff" stroke="#ffffff" stroke-width="0.3">93.400</text>
<rect x="884" y="365" width="45" height="16" fill="#eb4d5c" shape-rendering="crispEdges"/>
<rect x="885" y="372" width="3" height="1" fill="#ffffff" fill-opacity="0.6" shape-rendering="crispEdges"/>
<text x="891.5" y="377" font-size="10.7" fill="#ffffff" stroke="#ffffff" stroke-width="0.3">82.237</text>
<rect x="884" y="381" width="45" height="16" fill="#4f4f4f" shape-rendering="crispEdges"/>
<rect x="885" y="388" width="3" height="1" fill="#ffffff" fill-opacity="0.6" shape-rendering="crispEdges"/>
<text x="891.5" y="393" font-size="10.7" fill="#ffffff" stroke="#ffffff" stroke-width="0.3">82.181</text>
<rect x="884" y="397" width="45" height="16" fill="#38761d" shape-rendering="crispEdges"/>
<rect x="885" y="404" width="3" height="1" fill="#ffffff" fill-opacity="0.6" shape-rendering="crispEdges"/>
<text x="891.5" y="409" font-size="10.7" fill="#ffffff" stroke="#ffffff" stroke-width="0.3">82.000</text>
<rect x="884" y="450" width="45" height="16" fill="#38761d" shape-rendering="crispEdges"/>
<rect x="885" y="457" width="3" height="1" fill="#ffffff" fill-opacity="0.6" shape-rendering="crispEdges"/>
<text x="891.5" y="462" font-size="10.7" fill="#ffffff" stroke="#ffffff" stroke-width="0.3">76.000</text>
<text x="5.52" y="15.6" font-size="12" font-weight="normal" fill="#3bb3e4" stroke="#3bb3e4" stroke-width="0.2" textLength="31.96" lengthAdjust="spacingAndGlyphs">FilFox</text>
<text x="41.40" y="15.6" font-size="12" font-weight="normal" fill="#111111" stroke="#111111" stroke-width="0.2" textLength="83.00" lengthAdjust="spacingAndGlyphs">опубликовано</text>
<text x="128.30" y="15.6" font-size="12" font-weight="normal" fill="#111111" stroke="#111111" stroke-width="0.2" textLength="12.36" lengthAdjust="spacingAndGlyphs">на</text>
<text x="145.50" y="15.6" font-size="12" font-weight="normal" fill="#111111" stroke="#111111" stroke-width="0.2" textLength="100.87" lengthAdjust="spacingAndGlyphs">TradingView.com,</text>
<text x="250.55" y="15.6" font-size="12" font-weight="normal" fill="#111111" stroke="#111111" stroke-width="0.2" textLength="32.21" lengthAdjust="spacingAndGlyphs">Июль</text>
<text x="287.30" y="15.6" font-size="12" font-weight="normal" fill="#111111" stroke="#111111" stroke-width="0.2" textLength="16.37" lengthAdjust="spacingAndGlyphs">09,</text>
<text x="308.80" y="15.6" font-size="12" font-weight="normal" fill="#111111" stroke="#111111" stroke-width="0.2" textLength="26.01" lengthAdjust="spacingAndGlyphs">2018</text>
<text x="339.23" y="15.6" font-size="12" font-weight="normal" fill="#111111" stroke="#111111" stroke-width="0.2" textLength="31.33" lengthAdjust="spacingAndGlyphs">11:23</text>
<text x="374.35" y="15.6" font-size="12" font-weight="normal" fill="#111111" stroke="#111111" stroke-width="0.2" textLength="24.66" lengthAdjust="spacingAndGlyphs">MSK</text>
<text x="6.50" y="33.6" font-size="12" font-weight="bold" fill="#111111" stroke="#111111" stroke-width="0.2" textLength="104.75" lengthAdjust="spacingAndGlyphs">BITFINEX:LTCUSD,</text>
<text x="115.40" y="33.7" font-size="12" font-weight="bold" fill="#111111" stroke="#111111" stroke-width="0.2" textLength="19.83" lengthAdjust="spacingAndGlyphs">240</text>
<text x="141.60" y="33.7" font-size="12" font-weight="normal" fill="#111111" stroke="#111111" stroke-width="0.2" textLength="37.50" lengthAdjust="spacingAndGlyphs">82.237</text>
<text x="197.60" y="33.7" font-size="12" font-weight="normal" fill="#111111" stroke="#111111" stroke-width="0.2" textLength="38.45" lengthAdjust="spacingAndGlyphs">+0.056</text>
<text x="241.50" y="33.7" font-size="12" font-weight="normal" fill="#111111" stroke="#111111" stroke-width="0.2" textLength="46.63" lengthAdjust="spacingAndGlyphs">(+0.07%)</text>
<text x="293.60" y="33.7" font-size="12" font-weight="bold" fill="#111111" stroke="#111111" stroke-width="0.2" textLength="12.63" lengthAdjust="spacingAndGlyphs">O:</text>
<text x="307.30" y="33.7" font-size="12" font-weight="normal" fill="#1fae1f" stroke="#1fae1f" stroke-width="0.2" textLength="38.39" lengthAdjust="spacingAndGlyphs">82.280</text>
<text x="350.90" y="33.7" font-size="12" font-weight="bold" fill="#111111" stroke="#111111" stroke-width="0.2" textLength="12.14" lengthAdjust="spacingAndGlyphs">H:</text>
<text x="363.80" y="33.7" font-size="12" font-weight="normal" fill="#1fae1f" stroke="#1fae1f" stroke-width="0.2" textLength="38.39" lengthAdjust="spacingAndGlyphs">82.350</text>
<text x="407.60" y="33.7" font-size="12" font-weight="bold" fill="#111111" stroke="#111111" stroke-width="0.2" textLength="8.86" lengthAdjust="spacingAndGlyphs">L:</text>
<text x="417.70" y="33.7" font-size="12" font-weight="normal" fill="#1fae1f" stroke="#1fae1f" stroke-width="0.2" textLength="38.39" lengthAdjust="spacingAndGlyphs">81.900</text>
<text x="461.20" y="33.7" font-size="12" font-weight="bold" fill="#111111" stroke="#111111" stroke-width="0.2" textLength="11.51" lengthAdjust="spacingAndGlyphs">C:</text>
<text x="473.60" y="33.7" font-size="12" font-weight="normal" fill="#1fae1f" stroke="#1fae1f" stroke-width="0.2" textLength="37.79" lengthAdjust="spacingAndGlyphs">82.237</text>
<text x="15.60" y="65.2" font-size="12" font-weight="bold" fill="#555555" stroke="#555555" stroke-width="0.2" textLength="180.28" lengthAdjust="spacingAndGlyphs">Litecoin / Dollar, 240, BITFINEX</text>
<text x="15.60" y="81.9" font-size="12" font-weight="normal" fill="#555555" stroke="#555555" stroke-width="0.2" textLength="63.90" lengthAdjust="spacingAndGlyphs">Объём (20)</text>
<text x="15.37" y="98.6" font-size="12" font-weight="normal" fill="#555555" stroke="#555555" stroke-width="0.2" textLength="87.25" lengthAdjust="spacingAndGlyphs">EMA (55, close)</text>
<text x="15.10" y="557.7" font-size="12" font-weight="normal" fill="#555555" stroke="#555555" stroke-width="0.2" textLength="160.78" lengthAdjust="spacingAndGlyphs">Stoch RSI (3, 3, 14, 14, close)</text>
<text x="767.30" y="79" font-size="12.5" font-weight="normal" fill="#858585" stroke="#858585" stroke-width="0.2" textLength="100.04" lengthAdjust="spacingAndGlyphs">0.00%(110.510)</text>
<text x="6.30" y="671.5" font-size="12" font-weight="normal" fill="#111111" stroke="#111111" stroke-width="0.2" textLength="124.37" lengthAdjust="spacingAndGlyphs">Создано при помощи</text>
<text x="170.20" y="671.5" font-size="12.5" font-weight="normal" fill="#3bb3e4" stroke="#3bb3e4" stroke-width="0.2" textLength="70.39" lengthAdjust="spacingAndGlyphs">TradingView</text>
<path d="M183 33.5 L188.5 23.5 L194 33.5 Z" fill="#1fae1f"/>
<g transform="translate(140,661.5)"><path d="M3.2 14.5 C1.2 14.5 0 13.2 0 11.2 C0 8.5 1.5 6.2 5.2 5.6 C5.4 2.4 8 -0.1 11.1 -0.1 C13 -0.1 14.4 0.7 15.4 1.9 L20.3 4.8 C22.5 5.8 24 8 24 10.6 C24 12.8 22.6 14.5 20.5 14.5 Z" fill="#4abdea"/><path d="M-0.3 12.7 L8.6 5.6 L13.9 12.4 L21.6 3.8" fill="none" stroke="#eff3f6" stroke-width="1.6" stroke-linejoin="miter"/></g>
</svg>
</body></html>
